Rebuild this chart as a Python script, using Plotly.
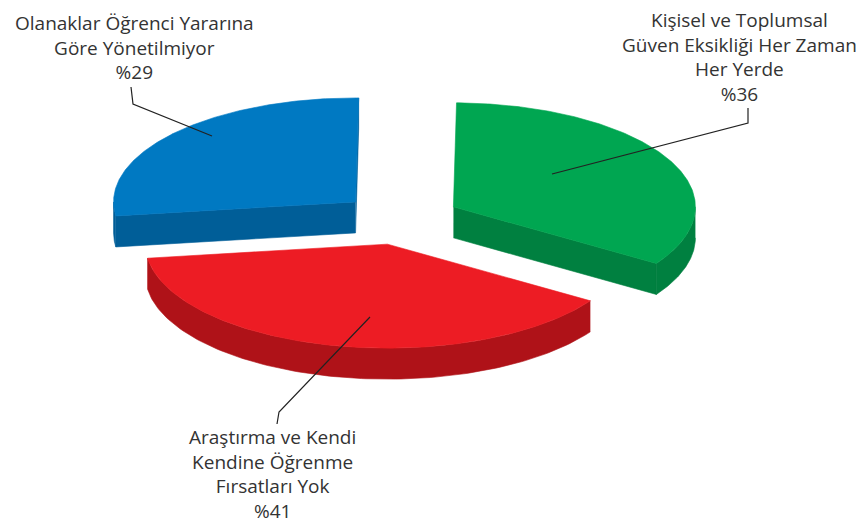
import numpy as np
import plotly.graph_objects as go

# ---------------- data ----------------
categories = [
    ["Araştırma ve Kendi", "Kendine Öğrenme", "Fırsatları Yok"],
    ["Olanaklar Öğrenci Yararına", "Göre Yönetilmiyor"],
    ["Kişisel ve Toplumsal", "Güven Eksikliği Her Zaman", "Her Yerde"],
]
values = [41, 29, 36]
value_labels = ["%41", "%29", "%36"]

# ---------------- style ----------------
top_colors = ["#ED1C24", "#0079C2", "#00A651"]
side_colors = ["#AF1218", "#005E98", "#008040"]
draw_order = [1, 2, 0]          # back slices first
START_DEG = 33.0                # screen angle (y down) where first slice starts
CX, CY = 400.5, 219.0           # pie centre (axis units = window px)
RX, RY = 242.0, 104.0           # ellipse radii of the tilted pie
DEPTH = 31.0
EXPLODE = 60.0
FONT = dict(family="Open Sans, Noto Sans, sans-serif", size=19, color="#333333")
# label block centre (x, y); leader points
label_pos = [(272, 474), (134, 47), (739, 57)]
leader_pts = [
    [(370, 317), (279, 412), (277, 424)],
    [(212, 136), (133, 104), (131, 87)],
    [(552, 174), (748, 123), (748, 108)],
]

fig = go.Figure()


def pt(t_deg, ox, oy, dz=0.0):
    t = np.radians(t_deg)
    return CX + ox + RX * np.cos(t), CY + oy + RY * np.sin(t) + dz


def visible_arcs(t0, t1):
    out = []
    k0 = int(np.floor(t0 / 360.0)) - 1
    for k in range(k0, k0 + 4):
        a, b = max(t0, 360 * k), min(t1, 360 * k + 180)
        if b > a:
            out.append((a, b))
    return out


total = float(sum(values))
slices = []
start = START_DEG
for v in values:
    span = v / total * 360.0
    slices.append((start, start + span))
    start += span

for i in draw_order:
    t0, t1 = slices[i]
    m = np.radians((t0 + t1) / 2)
    ox, oy = EXPLODE * np.cos(m), EXPLODE * (RY / RX) * np.sin(m)
    ax, ay = CX + ox, CY + oy
    polys = []
    # radial side faces
    if np.cos(np.radians(t0)) < 0:
        ex, ey = pt(t0, ox, oy)
        polys.append(([ax, ex, ex, ax], [ay, ey, ey + DEPTH, ay + DEPTH]))
    if np.cos(np.radians(t1)) > 0:
        ex, ey = pt(t1, ox, oy)
        polys.append(([ax, ex, ex, ax], [ay, ey, ey + DEPTH, ay + DEPTH]))
    # outer curved side
    for a, b in visible_arcs(t0, t1):
        ts = np.linspace(a, b, 120)
        xs, ys = pt(ts, ox, oy)
        polys.append((list(xs) + list(xs[::-1]), list(ys) + list((ys + DEPTH)[::-1])))
    for xs, ys in polys:
        fig.add_trace(go.Scatter(x=xs, y=ys, fill="toself", mode="lines",
                                 fillcolor=side_colors[i],
                                 line=dict(color=side_colors[i], width=0.6),
                                 hoverinfo="skip", showlegend=False))
    ts = np.linspace(t0, t1, 200)
    xs, ys = pt(ts, ox, oy)
    fig.add_trace(go.Scatter(x=[ax] + list(xs) + [ax], y=[ay] + list(ys) + [ay],
                             fill="toself", mode="lines", fillcolor=top_colors[i],
                             line=dict(color=top_colors[i], width=0.6),
                             hoverinfo="skip", showlegend=False))

annotations = []
shapes = []
for i in range(len(values)):
    lx, ly = label_pos[i]
    txt = "<br>".join(categories[i] + [value_labels[i]])
    annotations.append(dict(x=lx, y=ly, text=txt, showarrow=False,
                            xanchor="center", yanchor="middle", align="center",
                            font=FONT, xref="x", yref="y"))
    p = leader_pts[i]
    path = "M " + " L ".join(f"{x},{y}" for x, y in p)
    shapes.append(dict(type="path", path=path, xref="x", yref="y",
                       line=dict(color="#222222", width=1.2)))

# the page body has an 8px margin: map axis units straight onto window pixels
fig.update_layout(
    width=858, height=517, margin=dict(l=0, r=0, t=0, b=0),
    paper_bgcolor="white", plot_bgcolor="white",
    xaxis=dict(range=[8, 866], visible=False, fixedrange=True),
    yaxis=dict(range=[525, 8], visible=False, fixedrange=True),
    annotations=annotations, shapes=shapes, showlegend=False,
)
fig.write_html("out.html")
